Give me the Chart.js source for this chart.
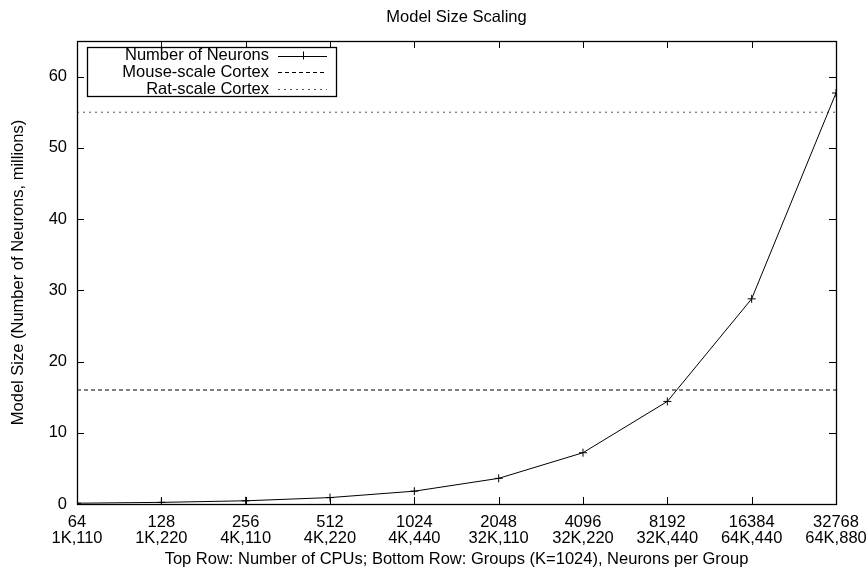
<!DOCTYPE html>
<html>
<head>
<meta charset="utf-8">
<script src="https://cdn.jsdelivr.net/npm/chart.js@4/dist/chart.umd.min.js"></script>
<style>
  html, body { margin: 0; padding: 0; background: #fff; }
</style>
</head>
<body>
<canvas id="scalingChart" width="868" height="570"></canvas>
<script>
var cpus = [64, 128, 256, 512, 1024, 2048, 4096, 8192, 16384, 32768];
var groups = ['1K,110', '1K,220', '4K,110', '4K,220', '4K,440', '32K,110', '32K,220', '32K,440', '64K,440', '64K,880'];
var neurons = [0.11, 0.23, 0.45, 0.9, 1.8, 3.6, 7.2, 14.4, 28.8, 57.7];
var mouseCortex = 16;
var ratCortex = 55;
var yTicks = [0, 10, 20, 30, 40, 50, 60];
var chartTitle = 'Model Size Scaling';

var fontFamily = '"Liberation Sans", Arial, Helvetica, sans-serif';
var fontSize = 16.5;
var tickLen = 7;

// gnuplot style frame: full box with inward ticks on all four sides
var framePlugin = {
    id: 'frame',
    afterDraw: function (chart) {
        var ctx = chart.ctx;
        var a = chart.chartArea;
        var xs = chart.scales.x, ys = chart.scales.y;
        ctx.save();
        ctx.strokeStyle = '#000';
        ctx.lineWidth = 1;
        ctx.beginPath();
        cpus.forEach(function (c) {
            var px = Math.round(xs.getPixelForValue(c)) + 0.5;
            ctx.moveTo(px, a.bottom); ctx.lineTo(px, a.bottom - tickLen);
            ctx.moveTo(px, a.top); ctx.lineTo(px, a.top + tickLen);
        });
        yTicks.forEach(function (v) {
            var py = Math.round(ys.getPixelForValue(v)) + 0.5;
            ctx.moveTo(a.left, py); ctx.lineTo(a.left + tickLen, py);
            ctx.moveTo(a.right, py); ctx.lineTo(a.right - tickLen, py);
        });
        ctx.stroke();
        ctx.lineWidth = 1.3;
        ctx.strokeRect(Math.round(a.left) + 0.5, Math.round(a.top) + 0.5,
            Math.round(a.right - a.left), Math.round(a.bottom - a.top));

        // title centred over the plot area
        ctx.fillStyle = '#000';
        ctx.font = fontSize + 'px ' + fontFamily;
        ctx.textAlign = 'center';
        ctx.textBaseline = 'alphabetic';
        ctx.fillText(chartTitle, (a.left + a.right) / 2, 22);
        ctx.restore();
    }
};

// legend box like gnuplot: text right aligned, sample on the right
var keyPlugin = {
    id: 'keyBox',
    afterDraw: function (chart) {
        var ctx = chart.ctx;
        var a = chart.chartArea;
        var left = a.left + 10, top = a.top + 6, w = 249, h = 49;
        var textRight = left + 182, lineX0 = left + 191, lineX1 = left + 240;
        ctx.save();
        ctx.fillStyle = '#fff';
        ctx.fillRect(left, top, w, h);
        ctx.strokeStyle = '#000';
        ctx.lineWidth = 1.3;
        ctx.strokeRect(left + 0.5, top + 0.5, w, h);
        ctx.font = fontSize + 'px ' + fontFamily;
        ctx.textAlign = 'right';
        ctx.textBaseline = 'middle';
        chart.data.datasets.forEach(function (ds, i) {
            var y = top + 8.5 + i * 16.8;
            ctx.fillStyle = '#000';
            ctx.fillText(ds.label, textRight, y);
            ctx.strokeStyle = ds.borderColor;
            ctx.lineWidth = 1;
            ctx.setLineDash(ds.borderDash || []);
            ctx.beginPath();
            ctx.moveTo(lineX0, Math.round(y) + 0.5);
            ctx.lineTo(lineX1, Math.round(y) + 0.5);
            ctx.stroke();
            ctx.setLineDash([]);
            if (ds.pointRadius > 0) {
                var mx = Math.round((lineX0 + lineX1) / 2) + 0.5;
                ctx.beginPath();
                ctx.moveTo(mx, y - 4); ctx.lineTo(mx, y + 4);
                ctx.stroke();
            }
        });
        ctx.restore();
    }
};

var ctx = document.getElementById('scalingChart');
var scalingChart = new Chart(ctx, {
    type: 'line',
    data: {
        datasets: [
            {
                label: 'Number of Neurons',
                data: cpus.map(function (c, i) { return { x: c, y: neurons[i] }; }),
                borderColor: '#000',
                borderWidth: 1,
                pointStyle: 'cross',
                pointRadius: 4,
                pointBorderColor: '#000',
                pointBorderWidth: 1,
                tension: 0
            },
            {
                label: 'Mouse-scale Cortex',
                data: [{ x: cpus[0], y: mouseCortex }, { x: cpus[cpus.length - 1], y: mouseCortex }],
                borderColor: '#000',
                borderWidth: 1.1,
                borderDash: [4, 3],
                pointRadius: 0
            },
            {
                label: 'Rat-scale Cortex',
                data: [{ x: cpus[0], y: ratCortex }, { x: cpus[cpus.length - 1], y: ratCortex }],
                borderColor: '#555',
                borderWidth: 1,
                borderDash: [2, 4],
                pointRadius: 0
            }
        ]
    },
    options: {
        responsive: false,
        animation: false,
        layout: { padding: { left: 0, right: 32, top: 41, bottom: 0 } },
        plugins: {
            legend: { display: false },
            tooltip: { enabled: false },
            title: { display: false }
        },
        scales: {
            x: {
                type: 'logarithmic',
                min: cpus[0],
                max: cpus[cpus.length - 1],
                afterBuildTicks: function (scale) {
                    scale.ticks = cpus.map(function (c) { return { value: c }; });
                },
                afterFit: function (scale) {
                    scale.height = 66;
                    scale.paddingLeft = 0;
                    scale.paddingRight = 0;
                },
                grid: { display: false, drawTicks: false },
                border: { display: false },
                ticks: {
                    color: '#000',
                    font: { family: fontFamily, size: fontSize, lineHeight: 0.97 },
                    padding: 10,
                    maxRotation: 0,
                    autoSkip: false,
                    callback: function (value) {
                        var i = cpus.indexOf(value);
                        return i < 0 ? '' : [String(cpus[i]), groups[i]];
                    }
                },
                title: {
                    display: true,
                    text: 'Top Row: Number of CPUs; Bottom Row: Groups (K=1024), Neurons per Group',
                    color: '#000',
                    font: { family: fontFamily, size: fontSize, lineHeight: 1 },
                    padding: { top: 0, bottom: 2 }
                }
            },
            y: {
                min: 0,
                max: 65,
                afterBuildTicks: function (scale) {
                    scale.ticks = yTicks.map(function (v) { return { value: v }; });
                },
                afterFit: function (scale) {
                    scale.width = 77;
                    scale.paddingTop = 0;
                    scale.paddingBottom = 0;
                },
                grid: { display: false, drawTicks: false },
                border: { display: false },
                ticks: {
                    color: '#000',
                    font: { family: fontFamily, size: fontSize },
                    padding: 10
                },
                title: {
                    display: true,
                    text: 'Model Size (Number of Neurons, millions)',
                    color: '#000',
                    font: { family: fontFamily, size: fontSize, lineHeight: 1 },
                    padding: { top: 10, bottom: 0 }
                }
            }
        }
    },
    plugins: [framePlugin, keyPlugin]
});
</script>
</body>
</html>
